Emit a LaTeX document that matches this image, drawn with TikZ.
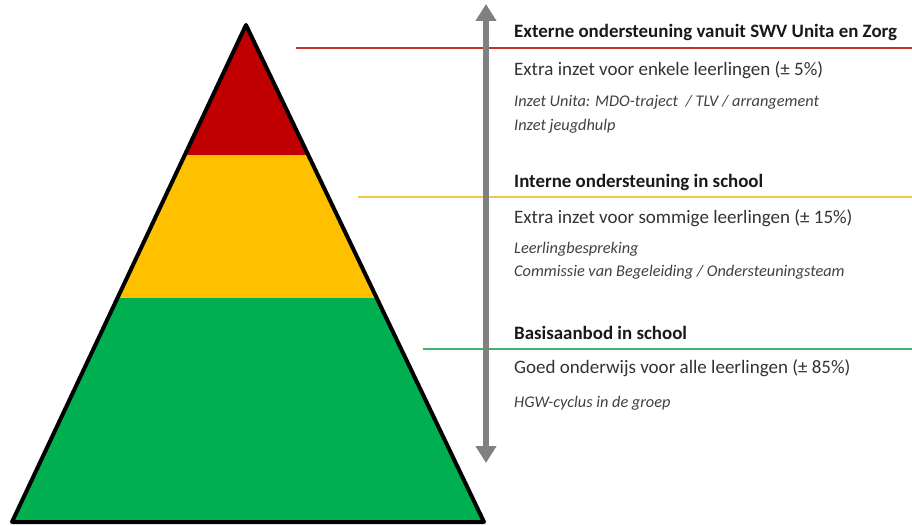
\documentclass[tikz,border=0pt]{standalone}
\usepackage{fontspec}
\setmainfont{Carlito}
\usepackage{tikz}
\usetikzlibrary{arrows.meta, positioning}
\definecolor{topred}{HTML}{C00000}
\definecolor{midyellow}{HTML}{FFC000}
\definecolor{basegreen}{HTML}{00B050}
\definecolor{redline}{HTML}{C8302E}
\definecolor{yellowline}{HTML}{F2C744}
\definecolor{greenline}{HTML}{3DB56E}
\tikzstyle{heading} = [anchor=west, inner sep=0pt, font=\fontsize{18.9}{22}\selectfont\bfseries, text=black!90]
\tikzstyle{subline} = [anchor=west, inner sep=0pt, font=\fontsize{19}{22}\selectfont, text=black!80]
\tikzstyle{detail} = [anchor=west, inner sep=0pt, font=\fontsize{16.3}{19}\selectfont\itshape, text=black!75]
\tikzstyle{divider} = [line width=1.6pt]
\tikzstyle{updown} = [{Triangle[width=20pt,length=17pt]}-{Triangle[width=20pt,length=17pt]}, line width=6pt, draw=black!50]

\begin{document}
\begin{tikzpicture}[x=1pt, y=-1pt]
    \useasboundingbox (0,0) rectangle (912,526);

    % pyramid
    \coordinate (apex) at (246, 25);
    \coordinate (baseL) at (12, 522);
    \coordinate (baseR) at (484, 522);
    \begin{scope}
        \clip (apex) -- (baseL) -- (baseR) -- cycle;
        \fill [basegreen] (0, 298) rectangle (500, 526);
        \fill [midyellow] (0, 155) rectangle (500, 298);
        \fill [topred] (0, 0) rectangle (500, 155);
    \end{scope}
    \draw [line width=4pt, line join=round] (apex) -- (baseL) -- (baseR) -- cycle;

    % dividers
    \coordinate (redA) at (296, 48);
    \coordinate (redB) at (912, 48);
    \coordinate (yelA) at (358, 197);
    \coordinate (yelB) at (912, 197);
    \coordinate (grnA) at (423, 349);
    \coordinate (grnB) at (912, 349);
    \draw [divider, redline] (redA) -- (redB);
    \draw [divider, yellowline] (yelA) -- (yelB);
    \draw [divider, greenline] (grnA) -- (grnB);

    % arrow
    \coordinate (arrTop) at (486, 4);
    \coordinate (arrBot) at (486, 463);
    \draw [updown] (arrBot) -- (arrTop);

    % texts
    \node (head1) [heading] at (514, 32) {Externe ondersteuning vanuit SWV Unita en Zorg};
    \node (sub1) [subline] at (514, 70) {Extra inzet voor enkele leerlingen (± 5\%)};
    \node (det1a) [detail] at (514, 102) {Inzet Unita: MDO-traject \ / TLV / arrangement};
    \node (det1b) [detail] at (514, 126) {Inzet jeugdhulp};

    \node (head2) [heading] at (514, 182) {Interne ondersteuning in school};
    \node (sub2) [subline] at (514, 218) {Extra inzet voor sommige leerlingen (± 15\%)};
    \node (det2a) [detail] at (514, 249) {Leerlingbespreking};
    \node (det2b) [detail] at (514, 272) {Commissie van Begeleiding / Ondersteuningsteam};

    \node (head3) [heading] at (514, 333) {Basisaanbod in school};
    \node (sub3) [subline] at (514, 368) {Goed onderwijs voor alle leerlingen (± 85\%)};
    \node (det3a) [detail] at (514, 403) {HGW-cyclus in de groep};

\end{tikzpicture}
\end{document}
